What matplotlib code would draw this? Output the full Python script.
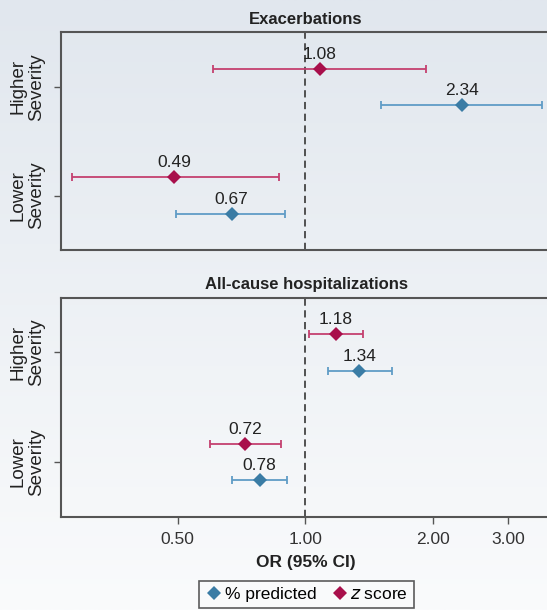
import numpy as np
import matplotlib
matplotlib.use("Agg")
import matplotlib.pyplot as plt
from matplotlib.lines import Line2D
from matplotlib.ticker import FixedLocator, NullLocator

plt.rcParams['font.family'] = ['Liberation Sans', 'DejaVu Sans']

categories = ['Higher\nSeverity', 'Lower\nSeverity']
panel_titles = ['Exacerbations', 'All-cause hospitalizations']

# Exacerbations
exac_pct_or = [2.34, 0.67]
exac_pct_lo = [1.51, 0.495]
exac_pct_hi = [3.62, 0.895]
exac_z_or = [1.08, 0.49]
exac_z_lo = [0.607, 0.282]
exac_z_hi = [1.92, 0.867]

# All-cause hospitalizations
hosp_pct_or = [1.34, 0.78]
hosp_pct_lo = [1.13, 0.67]
hosp_pct_hi = [1.60, 0.904]
hosp_z_or = [1.18, 0.72]
hosp_z_lo = [1.02, 0.595]
hosp_z_hi = [1.37, 0.874]

xticks = [0.5, 1.0, 2.0, 3.0]
xtick_labels = ['0.50', '1.00', '2.00', '3.00']
series_names = ['% predicted', '$z$ score']

blue_m, blue_l = '#3a7ca5', '#5f9cc6'
red_m, red_l = '#a80f4b', '#c4406f'

fig = plt.figure(figsize=(5.47, 6.10), dpi=100)

# gradient background
bg = fig.add_axes([0, 0, 1, 1], zorder=-10)
grad = np.linspace(0, 1, 256).reshape(-1, 1)
c_top = np.array([0xe1, 0xe7, 0xee]) / 255
c_bot = np.array([0xfa, 0xfb, 0xfc]) / 255
img = c_top[None, None, :] * (1 - grad[:, :, None]) + c_bot[None, None, :] * grad[:, :, None]
bg.imshow(img, aspect='auto', extent=[0, 1, 0, 1])
bg.axis('off')

W, H = 547, 610
left_px, right_px = 60.7, 549
panels_px = [(32.3, 250.0), (297.7, 516.7)]
cx = (306 - left_px) / (right_px - left_px)

data = [
    (exac_pct_or, exac_pct_lo, exac_pct_hi, exac_z_or, exac_z_lo, exac_z_hi),
    (hosp_pct_or, hosp_pct_lo, hosp_pct_hi, hosp_z_or, hosp_z_lo, hosp_z_hi),
]

ypos = np.array([1.0, 0.0])
off = 1 / 6

axes = []
for i, ((t, b), d) in enumerate(zip(panels_px, data)):
    ax = fig.add_axes([left_px / W, 1 - b / H, (right_px - left_px) / W, (b - t) / H])
    ax.patch.set_alpha(0)
    axes.append(ax)
    p_or, p_lo, p_hi, z_or, z_lo, z_hi = d
    ax.set_xscale('log')
    ax.set_xlim(0.265, 3.75)
    ax.set_ylim(-0.5, 1.5)
    ax.axvline(1.0, color='#444444', lw=1.3, ls=(0, (4, 2.5)), zorder=1)
    for vals, lo, hi, yy, mc, lc in [
        (z_or, z_lo, z_hi, ypos + off, red_m, red_l),
        (p_or, p_lo, p_hi, ypos - off, blue_m, blue_l),
    ]:
        vals = np.array(vals); lo = np.array(lo); hi = np.array(hi)
        ax.errorbar(vals, yy, xerr=[vals - lo, hi - vals], fmt='none',
                    ecolor=lc, elinewidth=1.3, capsize=3, capthick=1.3, zorder=2)
        ax.plot(vals, yy, 'D', color=mc, markersize=7.5, markeredgewidth=0, zorder=3)
        for v, y in zip(vals, yy):
            ax.annotate(f'{v:.2f}', (v, y), xytext=(0, 5), textcoords='offset points',
                        ha='center', va='bottom', fontsize=12.5, color='#222222')
    ax.set_yticks(ypos)
    ax.set_yticklabels(categories, rotation=90, va='center', ha='center',
                       fontsize=13.5, linespacing=1.12, color='#222222')
    ax.tick_params(axis='y', pad=19, length=5, color='#555555', width=1)
    ax.xaxis.set_major_locator(FixedLocator(xticks))
    ax.xaxis.set_minor_locator(NullLocator())
    for s in ax.spines.values():
        s.set_color('#555555')
        s.set_linewidth(1.5)
    ax.set_title(panel_titles[i], fontsize=12, fontweight='bold', pad=6, color='#222222',
                 x=cx)
    if i == 0:
        ax.tick_params(axis='x', bottom=False, labelbottom=False)
    else:
        ax.set_xticklabels(xtick_labels, fontsize=12.5, color='#333333')
        ax.tick_params(axis='x', length=5, color='#555555', width=1, pad=6)
        ax.set_xlabel('OR (95% CI)', fontsize=12.5, fontweight='bold', color='#222222')
        ax.xaxis.label.set_va('center')
        ax.xaxis.set_label_coords(cx, -(562 - b) / (b - t))

handles = [
    Line2D([], [], marker='D', ls='none', color=blue_m, markersize=7, markeredgewidth=0),
    Line2D([], [], marker='D', ls='none', color=red_m, markersize=7, markeredgewidth=0),
]
leg = fig.legend(handles, series_names, loc='upper center',
                 bbox_to_anchor=(306.4 / W, 1 - 580.5 / H), ncol=2, frameon=True,
                 fancybox=False, fontsize=12.5, handletextpad=0.05, columnspacing=0.8,
                 handlelength=1.1, borderpad=0.35, borderaxespad=0)
leg.get_frame().set_edgecolor('#333333')
leg.get_frame().set_linewidth(1.2)
leg.get_frame().set_facecolor('#fafbfc')

fig.savefig('out.png', dpi=100)
